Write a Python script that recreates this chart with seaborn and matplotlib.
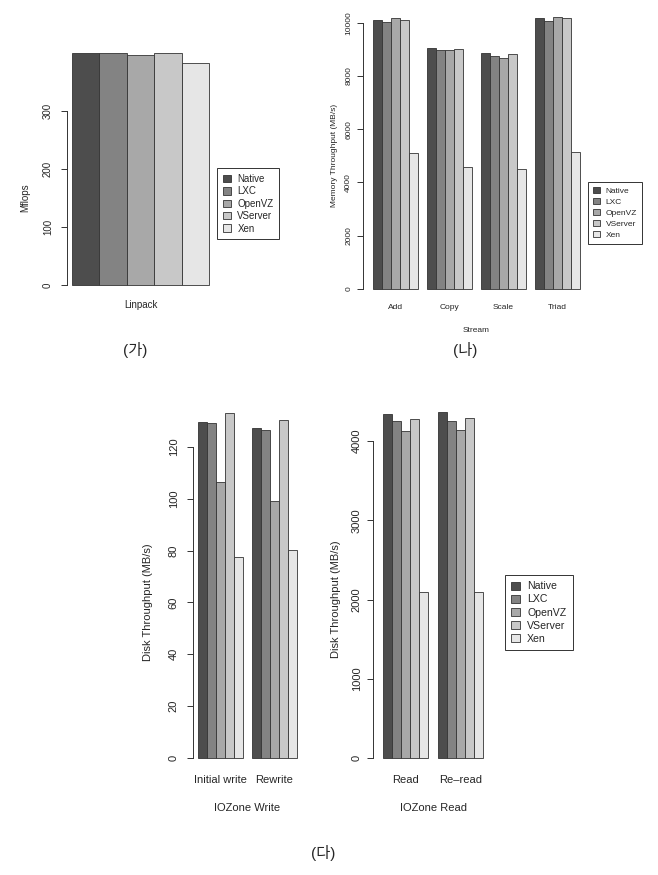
import pandas as pd
import seaborn as sns
import matplotlib.pyplot as plt

# Data
systems = ['Native', 'LXC', 'OpenVZ', 'VServer', 'Xen']
gray_colors = ['#4D4D4D', '#838383', '#A8A8A8', '#C8C8C8', '#E6E6E6']

linpack_tests = ['Linpack']
linpack_mflops = [[400, 400, 397, 400, 382]]

stream_tests = ['Add', 'Copy', 'Scale', 'Triad']
stream_mbs = [
    [10100, 10010, 10190, 10100, 5100],
    [9060, 8990, 8960, 9010, 4575],
    [8860, 8750, 8675, 8810, 4500],
    [10160, 10075, 10200, 10160, 5140],
]

write_tests = ['Initial write', 'Rewrite']
write_mbs = [
    [129.6, 129.3, 106.4, 133.2, 77.7],
    [127.3, 126.7, 99.2, 130.5, 80.2],
]

read_tests = ['Read', 'Re\u2013read']
read_mbs = [
    [4340, 4256, 4130, 4277, 2097],
    [4361, 4256, 4139, 4286, 2100],
]

sns.set_style('white')
plt.rcParams['font.family'] = ['Liberation Sans', 'Noto Sans CJK KR']

W, H = 658, 875
fig = plt.figure(figsize=(W / 100, H / 100), dpi=100)


def to_long(tests, values):
    rows = []
    for t, vals in zip(tests, values):
        for s, v in zip(systems, vals):
            rows.append({'test': t, 'system': s, 'value': v})
    return pd.DataFrame(rows)


def panel(tests, values, x0, x1, zero_px, px_per_unit, ytop, yticks, fs,
          offset, ytick_pad, xtick_pad, width, ylabel, ylabel_x,
          xlabel=None, xlabel_y=None):
    h = ytop * px_per_unit
    ax = fig.add_axes([x0 / W, 1 - zero_px / H, (x1 - x0) / W, h / H])
    df = to_long(tests, values)
    sns.barplot(data=df, x='test', y='value', hue='system', hue_order=systems,
                palette=gray_colors, saturation=1, width=width,
                edgecolor='#333333', linewidth=0.6, ax=ax)
    for p in ax.patches:
        p.set_clip_on(False)
    n = len(tests)
    ax.set_xlim(-width / 2, n - 1 + width / 2)
    ax.set_ylim(0, ytop)
    ax.set_yticks(yticks)
    for side in ['top', 'right', 'bottom']:
        ax.spines[side].set_visible(False)
    ax.spines['left'].set_position(('outward', offset))
    ax.spines['left'].set_bounds(yticks[0], yticks[-1])
    ax.spines['left'].set_color('#333333')
    ax.spines['left'].set_linewidth(0.7)
    ax.tick_params(axis='y', length=4.2, width=0.7, color='#333333',
                   pad=ytick_pad, labelsize=fs, labelrotation=90, left=True)
    for lbl in ax.get_yticklabels():
        lbl.set_va('center')
    ax.tick_params(axis='x', length=0, pad=xtick_pad, labelsize=fs)
    ax.set_ylabel(ylabel, fontsize=fs)
    ax.yaxis.set_label_coords(ylabel_x / W,
                              1 - (zero_px - yticks[-1] * px_per_unit / 2) / H,
                              transform=fig.transFigure)
    ax.yaxis.label.set_va('center')
    if xlabel:
        ax.set_xlabel(xlabel, fontsize=fs)
        ax.xaxis.set_label_coords(((x0 + x1) / 2) / W, 1 - xlabel_y / H,
                                  transform=fig.transFigure)
        ax.xaxis.label.set_va('center')
    else:
        ax.set_xlabel('')
    return ax


def put_legend(ax, x, y, fs, spacing):
    handles, labels = ax.get_legend_handles_labels()
    ax.legend(handles, labels, loc='upper left', bbox_to_anchor=(x / W, 1 - y / H),
              bbox_transform=fig.transFigure, fontsize=fs, frameon=True,
              fancybox=False, edgecolor='#333333', framealpha=1,
              handlelength=0.8, handleheight=0.8, handletextpad=0.7,
              labelspacing=spacing, borderpad=0.6, borderaxespad=0)
    ax.get_legend().get_frame().set_linewidth(0.7)


# (가) Linpack
ax1 = panel(linpack_tests, linpack_mflops, 72, 209, 285, 0.58, 402,
            [0, 100, 200, 300], 7, 3.6, 6, 11, 1.0, 'Mflops', 25)
put_legend(ax1, 217, 168, 7, 0.25)

# (나) Stream
ax2 = panel(stream_tests, stream_mbs, 373, 580, 289, 0.02663, 10250,
            [0, 2000, 4000, 6000, 8000, 10000], 6, 7.2, 3.5, 11, 0.833,
            'Memory Throughput (MB/s)', 334, 'Stream', 330)
put_legend(ax2, 588, 182, 6, 0.35)

# (다) IOZone write / read
ax3 = panel(write_tests, write_mbs, 198, 297, 758, 2.592, 135,
            [0, 20, 40, 60, 80, 100, 120], 8, 3.6, 6, 12, 0.833,
            'Disk Throughput (MB/s)', 148, 'IOZone Write', 808)
ax3.get_legend().remove()

ax4 = panel(read_tests, read_mbs, 383, 483, 758, 0.07925, 4400,
            [0, 1000, 2000, 3000, 4000], 8, 7.2, 4, 12, 0.833,
            'Disk Throughput (MB/s)', 336, 'IOZone Read', 808)
put_legend(ax4, 505, 575, 7.6, 0.3)

# panel captions
fig.text(135 / W, 1 - 350 / H, '(가)', ha='center', va='center', fontsize=11)
fig.text(465 / W, 1 - 350 / H, '(나)', ha='center', va='center', fontsize=11)
fig.text(323 / W, 1 - 853 / H, '(다)', ha='center', va='center', fontsize=11)

fig.savefig('out.png', dpi=100)
